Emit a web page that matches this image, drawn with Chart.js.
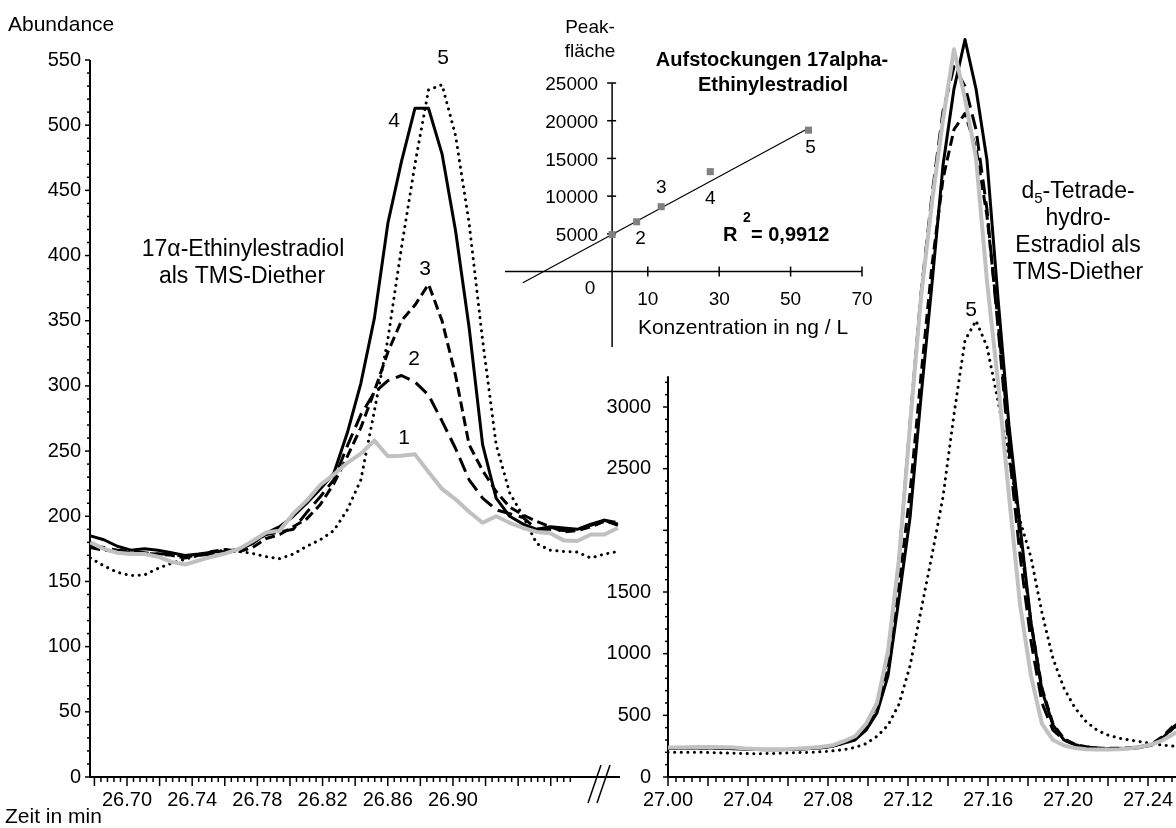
<!DOCTYPE html>
<html lang="de">
<head>
<meta charset="utf-8">
<title>Aufstockungen 17alpha-Ethinylestradiol</title>
<script src="https://cdn.jsdelivr.net/npm/chart.js@4.4.1/dist/chart.umd.min.js"></script>
<style>
  html, body { margin: 0; padding: 0; background: #fff; }
  #stage { position: relative; width: 1176px; height: 828px; overflow: hidden; background: #fff; }
  #stage canvas { position: absolute; top: 0; }
</style>
</head>
<body>
<div id="stage">
  <canvas id="cLeft" width="640" height="828" style="left:0px"></canvas>
  <canvas id="cRight" width="596" height="828" style="left:580px"></canvas>
  <canvas id="cInset" width="420" height="380" style="left:480px"></canvas>
</div>
<script>
// ---------- 17α-Ethinylestradiol (TMS-Diether), Aufstockungen 1–5 ----------
const leftTime = [26.6775, 26.6858, 26.6941, 26.7024, 26.7107, 26.7190, 26.7273, 26.7356, 26.7439, 26.7522,
                  26.7605, 26.7688, 26.7771, 26.7854, 26.7937, 26.8020, 26.8103, 26.8186, 26.8269, 26.8352,
                  26.8435, 26.8518, 26.8601, 26.8684, 26.8767, 26.8850, 26.8933, 26.9016, 26.9099, 26.9182,
                  26.9265, 26.9348, 26.9431, 26.9514, 26.9597, 26.9680, 26.9763, 26.9846, 26.9929, 27.0012];
const leftRun1 = [180, 175, 172, 171, 171, 169, 165, 163, 166, 169, 171.5, 175, 181, 187.5, 189, 202, 212, 224, 232, 241,
                  248, 258, 246, 246.5, 247.5, 234, 221, 213, 203.5, 195, 200, 195, 191, 188, 187, 181.5, 181, 186, 186, 191];
const leftRun2 = [178, 176, 174, 173, 172, 171, 171, 169, 170, 171, 172, 174, 180, 186, 188, 190, 203, 215, 228, 254,
                  278, 295, 304, 308, 303, 293, 273, 252, 228, 214, 205, 202, 199, 190, 190, 189, 190, 193, 197, 195];
const leftRun3 = [176, 174, 173, 172, 171.5, 171, 170, 168, 170, 173, 174.5, 173, 176, 183, 186, 192, 198, 209, 225, 246,
                  268, 296, 326, 350, 362, 378, 350, 308, 255, 235, 219, 207, 201, 196, 192, 188, 189, 192, 196, 194];
const leftRun4 = [185, 182, 177, 174, 175, 174, 172, 170, 171, 172.5, 173, 175, 179, 187, 192, 200, 210, 221, 233, 264,
                  302, 352, 425, 472, 513, 513, 478, 419, 345, 255, 214, 200, 194, 190, 192, 191, 190, 194, 197, 193];
const leftRun5 = [168, 162, 157, 154.5, 155, 160, 164, 167, 170, 172.5, 174, 173, 171.5, 169, 167.5, 171, 177, 182, 189, 205,
                  228, 281, 336, 406, 470, 527, 531, 492, 425, 335, 255, 218, 200, 179, 174, 173, 172.5, 168, 171, 173];

// ---------- d5-Tetradehydro-Estradiol (TMS-Diether), same runs ----------
const rightTime = [27.0000, 27.0055, 27.0110, 27.0165, 27.0220, 27.0275, 27.0330, 27.0385, 27.0440, 27.0495,
                   27.0550, 27.0605, 27.0660, 27.0715, 27.0770, 27.0825, 27.0880, 27.0935, 27.0990, 27.1045,
                   27.1100, 27.1155, 27.1210, 27.1265, 27.1320, 27.1375, 27.1430, 27.1485, 27.1540, 27.1595,
                   27.1650, 27.1705, 27.1760, 27.1815, 27.1870, 27.1925, 27.1980, 27.2035, 27.2090, 27.2145,
                   27.2200, 27.2255, 27.2310, 27.2365, 27.2420, 27.2475, 27.2530, 27.2585];
const rightRun1 = [240, 240, 242, 243, 243, 242, 240, 232, 228, 226, 225, 226, 232, 238, 245, 258, 290, 330, 430, 600,
                   1020, 1770, 2850, 3890, 4660, 5330, 5900, 5500, 5020, 4020, 3200, 2280, 1400, 820, 430, 300, 255, 235, 225, 222,
                   222, 225, 232, 245, 265, 300, 350, 400];
const rightRun2 = [238, 238, 238, 240, 240, 238, 236, 230, 225, 222, 222, 224, 228, 234, 240, 252, 280, 320, 410, 580,
                   1000, 1760, 2870, 3920, 4720, 5400, 5760, 5600, 5250, 4600, 3650, 2650, 1800, 1100, 600, 380, 300, 262, 244, 235,
                   232, 232, 236, 245, 265, 320, 400, 460];
const rightRun3 = [235, 236, 237, 238, 238, 236, 232, 228, 224, 222, 222, 224, 228, 234, 240, 252, 275, 305, 385, 540,
                   880, 1550, 2300, 3250, 4150, 4850, 5250, 5380, 5100, 4550, 3700, 2750, 1950, 1250, 720, 430, 310, 265, 245, 236,
                   232, 233, 238, 248, 270, 330, 420, 480];
const rightRun4 = [232, 233, 235, 236, 236, 234, 230, 226, 222, 220, 220, 222, 226, 232, 238, 250, 275, 300, 380, 520,
                   820, 1450, 2100, 3080, 4000, 4960, 5580, 5980, 5580, 5000, 3880, 2850, 2040, 1250, 700, 420, 300, 260, 240, 232,
                   230, 230, 232, 240, 260, 320, 410, 480];
const rightRun5 = [200, 200, 200, 200, 198, 195, 192, 190, 188, 190, 192, 195, 198, 200, 205, 212, 222, 240, 270, 330,
                   420, 590, 900, 1350, 1800, 2270, 2940, 3540, 3700, 3490, 3050, 2580, 2080, 1780, 1330, 960, 720, 560, 450, 380,
                   340, 315, 300, 285, 270, 258, 250, 248];

// ---------- Kalibrierung (Aufstockungen) ----------
const calibConc = [0, 6.875, 13.75, 27.5, 55];
const calibArea = [4900, 6600, 8600, 13250, 18750];
const calibTags = ['', '2', '3', '4', '5'];
const trendConc = [-25, 55];
const trendArea = [-1470, 19000];

// ---------- tick labels ----------
const leftXTicks = [26.70, 26.74, 26.78, 26.82, 26.86, 26.90];
const leftYTicks = [0, 50, 100, 150, 200, 250, 300, 350, 400, 450, 500, 550];
const rightXTicks = [27.00, 27.04, 27.08, 27.12, 27.16, 27.20, 27.24];
const rightYTicks = [0, 500, 1000, 1500, 2500, 3000];
const insetXTicks = [10, 30, 50, 70];
const insetYTicks = [5000, 10000, 15000, 20000, 25000];

// ---------- drawing helpers ----------
const FONT = '"Liberation Sans", Arial, Helvetica, sans-serif';
const font = (px, bold) => (bold ? 'bold ' : '') + px + 'px ' + FONT;

function seg(ctx, x1, y1, x2, y2) {
  ctx.beginPath(); ctx.moveTo(x1, y1); ctx.lineTo(x2, y2); ctx.stroke();
}
function write(ctx, s, x, y, f, align) {
  ctx.font = f; ctx.fillStyle = '#000';
  ctx.textAlign = align || 'center'; ctx.textBaseline = 'middle';
  ctx.fillText(s, x, y);
}

const runStyle = {
  1: { borderColor: '#c0c0c0', borderWidth: 4 },
  2: { borderColor: '#000', borderWidth: 3, borderDash: [15, 7] },
  3: { borderColor: '#000', borderWidth: 3, borderDash: [10, 5] },
  4: { borderColor: '#000', borderWidth: 3 },
  5: { borderColor: '#000', borderWidth: 3, borderDash: [0.1, 6.5], borderCapStyle: 'round' }
};

function trace(label, times, vals, style) {
  return Object.assign({
    label,
    data: times.map((t, i) => ({ x: t, y: vals[i] })),
    pointRadius: 0, fill: false, tension: 0, borderJoinStyle: 'round'
  }, style);
}

function baseOptions(padding, xr, yr) {
  return {
    responsive: false, animation: false, devicePixelRatio: 1, events: [],
    layout: { padding },
    plugins: { legend: { display: false }, tooltip: { enabled: false } },
    scales: {
      x: { type: 'linear', min: xr[0], max: xr[1], display: false },
      y: { type: 'linear', min: yr[0], max: yr[1], display: false }
    }
  };
}

// ---------- left chromatogram ----------
const leftFrame = {
  id: 'leftFrame',
  beforeDatasetsDraw(chart) {
    const { ctx, chartArea: a, scales: { x, y } } = chart;
    const y0 = y.getPixelForValue(0);
    ctx.save();
    ctx.strokeStyle = '#000';
    ctx.lineWidth = 2;
    seg(ctx, a.left, y0 + 1, a.left, y.getPixelForValue(550));
    seg(ctx, a.left - 1, y0, a.right, y0);
    ctx.lineWidth = 1.5;
    for (let k = 0; k <= 73; k++) {
      const px = x.getPixelForValue(26.68 + k * 0.004);
      seg(ctx, px, y0, px, y0 + (k % 5 === 0 ? 9 : 5));
    }
    for (let v = 0; v <= 550; v += 10) {
      const py = y.getPixelForValue(v);
      seg(ctx, a.left, py, a.left - (v % 50 === 0 ? 5 : 3), py);
    }
    // axis break
    seg(ctx, 588, 803, 601, 765);
    seg(ctx, 597, 803, 610, 765);
    leftXTicks.forEach(v => write(ctx, v.toFixed(2), x.getPixelForValue(v), 800, font(20)));
    leftYTicks.forEach(v => write(ctx, String(v), a.left - 9, y.getPixelForValue(v), font(20), 'right'));
    write(ctx, 'Abundance', 8, 25, font(21), 'left');
    write(ctx, 'Zeit in min', 5, 817, font(21), 'left');
    ctx.restore();
  },
  afterDatasetsDraw(chart) {
    const ctx = chart.ctx;
    ctx.save();
    write(ctx, '17\u03B1-Ethinylestradiol', 243, 250, font(23));
    write(ctx, 'als TMS-Diether', 242, 277, font(23));
    [['5', 443, 58], ['4', 394, 121], ['3', 425, 269], ['2', 414, 359], ['1', 404, 438]]
      .forEach(([s, px, py]) => write(ctx, s, px, py, font(21)));
    ctx.restore();
  }
};

new Chart(document.getElementById('cLeft'), {
  type: 'line',
  data: {
    datasets: [
      trace('1', leftTime, leftRun1, runStyle[1]),
      trace('4', leftTime, leftRun4, runStyle[4]),
      trace('2', leftTime, leftRun2, runStyle[2]),
      trace('3', leftTime, leftRun3, runStyle[3]),
      trace('5', leftTime, leftRun5, runStyle[5])
    ]
  },
  options: baseOptions({ left: 90, right: 20, top: 60, bottom: 51 }, [26.6773, 27.0025], [0, 550]),
  plugins: [leftFrame]
});

// ---------- right chromatogram ----------
const rightFrame = {
  id: 'rightFrame',
  beforeDatasetsDraw(chart) {
    const { ctx, chartArea: a, scales: { x, y } } = chart;
    const y0 = y.getPixelForValue(0);
    ctx.save();
    ctx.strokeStyle = '#000';
    ctx.lineWidth = 2;
    seg(ctx, a.left, y0 + 1, a.left, y.getPixelForValue(3250));
    seg(ctx, a.left - 1, y0, a.right, y0);
    ctx.lineWidth = 1.5;
    for (let k = 0; k <= 63; k++) {
      const px = x.getPixelForValue(27 + k * 0.004);
      seg(ctx, px, y0, px, y0 + (k % 5 === 0 ? 9 : 5));
    }
    for (let v = 0; v <= 3200; v += 100) {
      const py = y.getPixelForValue(v);
      seg(ctx, a.left, py, a.left - (v % 500 === 0 ? 5 : 3), py);
    }
    rightXTicks.forEach(v => write(ctx, v.toFixed(2), x.getPixelForValue(v), 800, font(20)));
    rightYTicks.forEach(v => write(ctx, String(v), a.left - 17, y.getPixelForValue(v), font(20), 'right'));
    ctx.restore();
  },
  afterDatasetsDraw(chart) {
    const ctx = chart.ctx;
    ctx.save();
    write(ctx, '5', 391, 310, font(21));
    // "d5-Tetrade-" with subscript 5
    const cx = 498, cy = 192;
    ctx.font = font(23);
    const wd = ctx.measureText('d').width, wr = ctx.measureText('-Tetrade-').width;
    ctx.font = font(15);
    const ws = ctx.measureText('5').width;
    const left = cx - (wd + ws + wr) / 2;
    write(ctx, 'd', left, cy, font(23), 'left');
    write(ctx, '5', left + wd, cy + 7, font(15), 'left');
    write(ctx, '-Tetrade-', left + wd + ws, cy, font(23), 'left');
    write(ctx, 'hydro-', cx, 219, font(23));
    write(ctx, 'Estradiol als', cx, 246, font(23));
    write(ctx, 'TMS-Diether', cx, 273, font(23));
    ctx.restore();
  }
};

new Chart(document.getElementById('cRight'), {
  type: 'line',
  data: {
    datasets: [
      trace('1', rightTime, rightRun1, runStyle[1]),
      trace('4', rightTime, rightRun4, runStyle[4]),
      trace('2', rightTime, rightRun2, runStyle[2]),
      trace('3', rightTime, rightRun3, runStyle[3]),
      trace('5', rightTime, rightRun5, runStyle[5])
    ]
  },
  options: baseOptions({ left: 88, right: 0, top: 0, bottom: 51 }, [27.0, 27.254], [0, 6300]),
  plugins: [rightFrame]
});

// ---------- calibration inset ----------
const insetFrame = {
  id: 'insetFrame',
  beforeDatasetsDraw(chart) {
    const { ctx, chartArea: a, scales: { x, y } } = chart;
    const x0 = x.getPixelForValue(0), y0 = y.getPixelForValue(0);
    ctx.save();
    ctx.strokeStyle = '#000';
    ctx.lineWidth = 1.5;
    seg(ctx, a.left, y0, a.right, y0);
    seg(ctx, x0, a.top, x0, a.bottom);
    insetXTicks.forEach(v => {
      const px = x.getPixelForValue(v);
      seg(ctx, px, y0 - 5, px, y0 + 5);
      write(ctx, String(v), px, y0 + 28, font(19));
    });
    insetYTicks.forEach(v => {
      const py = y.getPixelForValue(v);
      seg(ctx, x0 - 5, py, x0 + 4, py);
      write(ctx, String(v), x0 - 14, py + 2, font(19), 'right');
    });
    write(ctx, '0', x0 - 22, y0 + 17, font(19));
    write(ctx, 'Aufstockungen 17alpha-', 292, 60, font(20, true));
    write(ctx, 'Ethinylestradiol', 293, 85, font(20, true));
    write(ctx, 'Peak-', 110, 28, font(19));
    write(ctx, 'fläche', 110, 52, font(19));
    write(ctx, 'Konzentration in ng / L', 263, 328, font(21));
    write(ctx, 'R', 243, 235, font(20, true), 'left');
    write(ctx, '2', 263, 218, font(14, true), 'left');
    write(ctx, '= 0,9912', 271, 235, font(20, true), 'left');
    ctx.restore();
  },
  afterDatasetsDraw(chart) {
    const { ctx, scales: { x, y } } = chart;
    const offsets = { '2': [4, 17], '3': [0, -19], '4': [0, 27], '5': [2, 18] };
    ctx.save();
    calibConc.forEach((c, i) => {
      const tag = calibTags[i];
      if (!tag) return;
      const [dx, dy] = offsets[tag];
      write(ctx, tag, x.getPixelForValue(c) + dx, y.getPixelForValue(calibArea[i]) + dy, font(19));
    });
    ctx.restore();
  }
};

new Chart(document.getElementById('cInset'), {
  type: 'line',
  data: {
    datasets: [
      {
        label: 'Peakfläche', showLine: false,
        data: calibConc.map((c, i) => ({ x: c, y: calibArea[i] })),
        pointStyle: 'rect', pointRadius: 5, pointBackgroundColor: '#808080', pointBorderColor: '#808080', pointBorderWidth: 0
      },
      {
        label: 'Trend',
        data: trendConc.map((c, i) => ({ x: c, y: trendArea[i] })),
        borderColor: '#000', borderWidth: 1.2, pointRadius: 0, fill: false, tension: 0
      }
    ]
  },
  options: baseOptions({ left: 25, right: 38, top: 83, bottom: 33 }, [-30, 70], [-10000, 25000]),
  plugins: [insetFrame]
});
</script>
</body>
</html>
